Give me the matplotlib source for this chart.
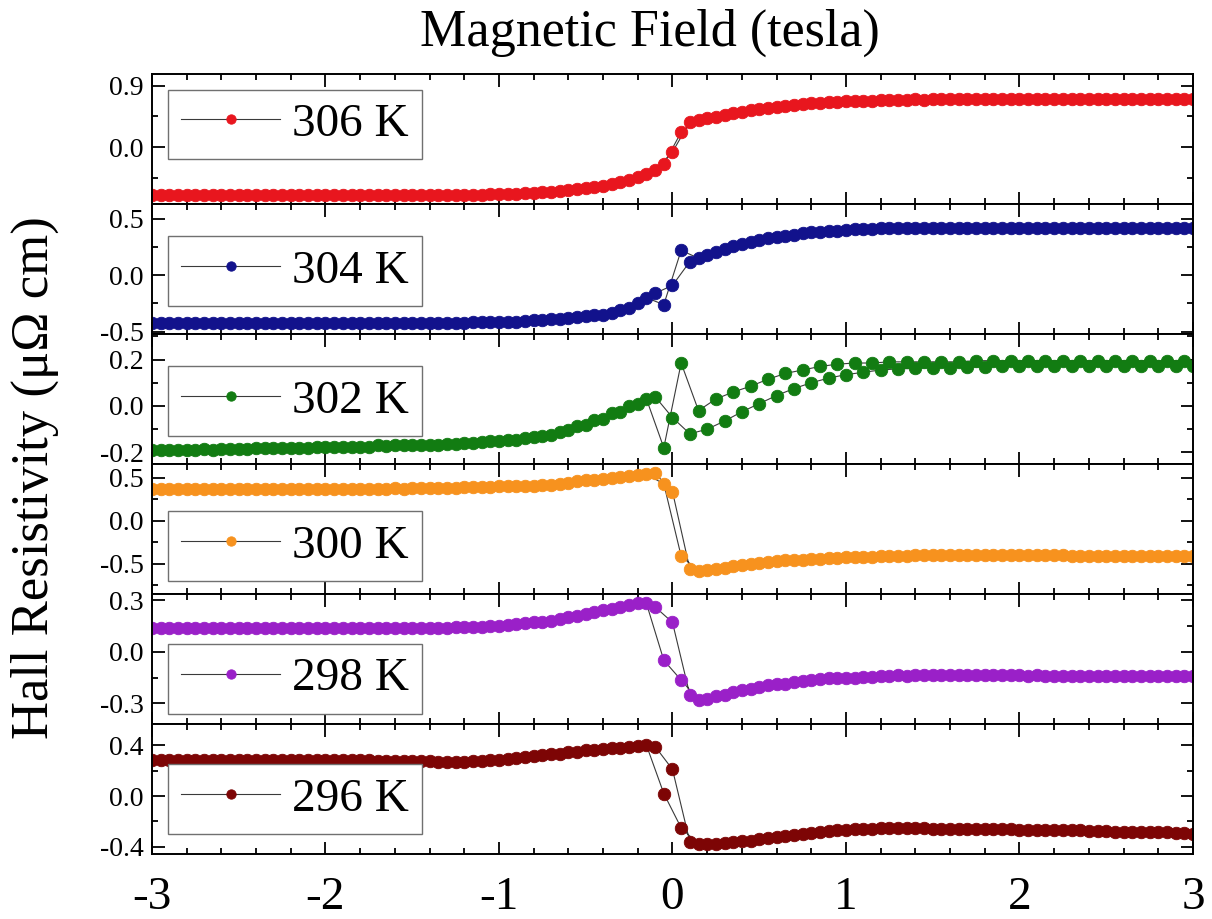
import matplotlib.pyplot as plt
from matplotlib.ticker import MultipleLocator, FuncFormatter

plt.rcParams['font.family'] = ['Liberation Serif', 'DejaVu Serif']
plt.rcParams['axes.unicode_minus'] = False

# field set points (tesla): sweep up -3 -> 3, then back down
field_up = [-3.0, -2.9, -2.8, -2.7, -2.6, -2.5, -2.4, -2.3, -2.2, -2.1,
            -2.0, -1.9, -1.8, -1.7, -1.6, -1.5, -1.4, -1.3, -1.2, -1.1,
            -1.0, -0.9, -0.8, -0.7, -0.6, -0.5, -0.4, -0.3, -0.2, -0.1,
            0.0, 0.1, 0.2, 0.3, 0.4, 0.5, 0.6, 0.7, 0.8, 0.9,
            1.0, 1.1, 1.2, 1.3, 1.4, 1.5, 1.6, 1.7, 1.8, 1.9,
            2.0, 2.1, 2.2, 2.3, 2.4, 2.5, 2.6, 2.7, 2.8, 2.9,
            3.0]
field_down = [2.95, 2.85, 2.75, 2.65, 2.55, 2.45, 2.35, 2.25, 2.15, 2.05,
              1.95, 1.85, 1.75, 1.65, 1.55, 1.45, 1.35, 1.25, 1.15, 1.05,
              0.95, 0.85, 0.75, 0.65, 0.55, 0.45, 0.35, 0.25, 0.15, 0.05,
              -0.05, -0.15, -0.25, -0.35, -0.45, -0.55, -0.65, -0.75, -0.85, -0.95,
              -1.05, -1.15, -1.25, -1.35, -1.45, -1.55, -1.65, -1.75, -1.85, -1.95,
              -2.05, -2.15, -2.25, -2.35, -2.45, -2.55, -2.65, -2.75, -2.85, -2.95]

# Hall resistivity (micro-ohm cm)
rho_306_up = [-0.70, -0.70, -0.70, -0.70, -0.70, -0.70, -0.70, -0.70, -0.70, -0.70,
              -0.70, -0.70, -0.70, -0.70, -0.70, -0.70, -0.70, -0.70, -0.70, -0.70,
              -0.69, -0.68, -0.67, -0.65, -0.63, -0.60, -0.56, -0.51, -0.44, -0.34,
              -0.07, 0.37, 0.42, 0.47, 0.52, 0.56, 0.59, 0.62, 0.64, 0.66,
              0.67, 0.68, 0.69, 0.69, 0.70, 0.70, 0.70, 0.70, 0.70, 0.70,
              0.70, 0.70, 0.70, 0.70, 0.70, 0.70, 0.70, 0.70, 0.70, 0.70,
              0.70]
rho_306_down = [0.70, 0.70, 0.70, 0.70, 0.70, 0.70, 0.70, 0.70, 0.70, 0.70,
                0.70, 0.70, 0.70, 0.70, 0.70, 0.69, 0.69, 0.685, 0.68, 0.675,
                0.665, 0.65, 0.63, 0.605, 0.575, 0.54, 0.495, 0.445, 0.40, 0.22,
                -0.25, -0.39, -0.48, -0.54, -0.585, -0.615, -0.64, -0.66, -0.675, -0.685,
                -0.69, -0.70, -0.70, -0.70, -0.70, -0.70, -0.70, -0.70, -0.70, -0.70,
                -0.70, -0.70, -0.70, -0.70, -0.70, -0.70, -0.70, -0.70, -0.70, -0.70]

rho_304_up = [-0.42, -0.42, -0.42, -0.42, -0.42, -0.42, -0.42, -0.42, -0.42, -0.42,
              -0.42, -0.42, -0.42, -0.42, -0.42, -0.42, -0.42, -0.42, -0.42, -0.415,
              -0.41, -0.41, -0.40, -0.39, -0.38, -0.365, -0.35, -0.31, -0.25, -0.16,
              -0.09, 0.12, 0.18, 0.23, 0.28, 0.31, 0.34, 0.36, 0.38, 0.39,
              0.40, 0.41, 0.415, 0.42, 0.42, 0.42, 0.42, 0.42, 0.42, 0.42,
              0.42, 0.42, 0.42, 0.42, 0.42, 0.42, 0.42, 0.42, 0.42, 0.42,
              0.42]
rho_304_down = [0.42, 0.42, 0.42, 0.42, 0.42, 0.42, 0.42, 0.42, 0.42, 0.42,
                0.42, 0.42, 0.42, 0.42, 0.42, 0.42, 0.42, 0.415, 0.41, 0.405,
                0.395, 0.385, 0.37, 0.35, 0.325, 0.295, 0.255, 0.205, 0.15, 0.22,
                -0.26, -0.20, -0.29, -0.33, -0.355, -0.37, -0.385, -0.395, -0.405, -0.41,
                -0.41, -0.415, -0.42, -0.42, -0.42, -0.42, -0.42, -0.42, -0.42, -0.42,
                -0.42, -0.42, -0.42, -0.42, -0.42, -0.42, -0.42, -0.42, -0.42, -0.42]

rho_302_up = [-0.19, -0.19, -0.19, -0.185, -0.185, -0.185, -0.18, -0.18, -0.18, -0.18,
              -0.175, -0.175, -0.175, -0.17, -0.17, -0.17, -0.17, -0.165, -0.16, -0.155,
              -0.15, -0.145, -0.135, -0.125, -0.105, -0.08, -0.055, -0.025, 0.01, 0.04,
              -0.05, -0.12, -0.10, -0.065, -0.025, 0.01, 0.045, 0.075, 0.10, 0.12,
              0.135, 0.145, 0.155, 0.16, 0.162, 0.165, 0.165, 0.167, 0.168, 0.17,
              0.17, 0.17, 0.17, 0.17, 0.17, 0.17, 0.17, 0.17, 0.17, 0.17,
              0.17]
rho_302_down = [0.195, 0.195, 0.195, 0.195, 0.195, 0.195, 0.195, 0.195, 0.195, 0.195,
                0.195, 0.195, 0.195, 0.19, 0.19, 0.19, 0.19, 0.19, 0.185, 0.185,
                0.18, 0.17, 0.155, 0.14, 0.115, 0.085, 0.06, 0.03, -0.02, 0.185,
                -0.18, 0.03, 0.0, -0.03, -0.06, -0.085, -0.11, -0.13, -0.14, -0.148,
                -0.152, -0.158, -0.163, -0.167, -0.17, -0.17, -0.172, -0.175, -0.175, -0.175,
                -0.178, -0.18, -0.18, -0.182, -0.185, -0.185, -0.188, -0.19, -0.19, -0.19]

rho_300_up = [0.37, 0.37, 0.37, 0.37, 0.37, 0.37, 0.37, 0.37, 0.37, 0.37,
              0.37, 0.37, 0.375, 0.375, 0.38, 0.38, 0.38, 0.385, 0.39, 0.395,
              0.40, 0.405, 0.41, 0.42, 0.445, 0.47, 0.49, 0.51, 0.53, 0.55,
              0.34, -0.56, -0.575, -0.55, -0.515, -0.49, -0.47, -0.455, -0.445, -0.435,
              -0.425, -0.415, -0.41, -0.405, -0.40, -0.40, -0.40, -0.40, -0.40, -0.40,
              -0.40, -0.40, -0.40, -0.405, -0.405, -0.405, -0.41, -0.41, -0.41, -0.41,
              -0.41]
rho_300_down = [-0.41, -0.41, -0.41, -0.41, -0.405, -0.405, -0.405, -0.40, -0.40, -0.40,
                -0.40, -0.40, -0.40, -0.40, -0.40, -0.40, -0.405, -0.41, -0.415, -0.42,
                -0.43, -0.44, -0.45, -0.46, -0.48, -0.50, -0.53, -0.56, -0.58, -0.41,
                0.43, 0.54, 0.52, 0.50, 0.48, 0.46, 0.43, 0.415, 0.41, 0.40,
                0.395, 0.39, 0.385, 0.38, 0.38, 0.375, 0.375, 0.37, 0.37, 0.37,
                0.37, 0.37, 0.37, 0.37, 0.37, 0.37, 0.37, 0.37, 0.37, 0.37]

rho_298_up = [0.14, 0.14, 0.14, 0.14, 0.14, 0.14, 0.14, 0.14, 0.14, 0.14,
              0.14, 0.14, 0.14, 0.14, 0.14, 0.14, 0.14, 0.14, 0.145, 0.145,
              0.15, 0.16, 0.17, 0.18, 0.20, 0.22, 0.24, 0.26, 0.28, 0.26,
              0.17, -0.25, -0.275, -0.25, -0.225, -0.205, -0.19, -0.175, -0.165, -0.155,
              -0.15, -0.145, -0.14, -0.135, -0.135, -0.135, -0.135, -0.135, -0.135, -0.135,
              -0.135, -0.135, -0.14, -0.14, -0.14, -0.14, -0.14, -0.14, -0.14, -0.14,
              -0.14]
rho_298_down = [-0.14, -0.14, -0.14, -0.14, -0.14, -0.14, -0.14, -0.14, -0.14, -0.14,
                -0.135, -0.135, -0.135, -0.135, -0.135, -0.135, -0.14, -0.14, -0.145, -0.15,
                -0.155, -0.16, -0.17, -0.185, -0.195, -0.215, -0.235, -0.26, -0.28, -0.165,
                -0.05, 0.28, 0.27, 0.25, 0.23, 0.21, 0.19, 0.175, 0.165, 0.155,
                0.15, 0.145, 0.145, 0.14, 0.14, 0.14, 0.14, 0.14, 0.14, 0.14,
                0.14, 0.14, 0.14, 0.14, 0.14, 0.14, 0.14, 0.14, 0.14, 0.14]

rho_296_up = [0.28, 0.28, 0.28, 0.28, 0.28, 0.28, 0.28, 0.28, 0.28, 0.28,
              0.28, 0.28, 0.28, 0.275, 0.275, 0.275, 0.275, 0.27, 0.27, 0.275,
              0.285, 0.30, 0.315, 0.33, 0.345, 0.36, 0.37, 0.38, 0.395, 0.39,
              0.21, -0.36, -0.38, -0.37, -0.355, -0.34, -0.325, -0.31, -0.29, -0.275,
              -0.265, -0.26, -0.255, -0.255, -0.255, -0.26, -0.26, -0.26, -0.26, -0.26,
              -0.265, -0.265, -0.27, -0.27, -0.275, -0.275, -0.28, -0.28, -0.285, -0.29,
              -0.295]
rho_296_down = [-0.29, -0.285, -0.285, -0.28, -0.28, -0.275, -0.27, -0.27, -0.265, -0.265,
                -0.26, -0.26, -0.26, -0.26, -0.26, -0.255, -0.255, -0.255, -0.26, -0.26,
                -0.27, -0.285, -0.30, -0.315, -0.33, -0.35, -0.365, -0.375, -0.38, -0.25,
                0.02, 0.40, 0.39, 0.375, 0.365, 0.35, 0.335, 0.32, 0.305, 0.29,
                0.28, 0.275, 0.27, 0.27, 0.275, 0.275, 0.275, 0.28, 0.28, 0.28,
                0.28, 0.28, 0.28, 0.28, 0.28, 0.28, 0.28, 0.28, 0.28, 0.28]

labels = ['306 K', '304 K', '302 K', '300 K', '298 K', '296 K']
colors = ['#e8161e', '#12128c', '#127c12', '#f7921e', '#9a20c8', '#7d0505']
sweeps_up = [rho_306_up, rho_304_up, rho_302_up, rho_300_up, rho_298_up, rho_296_up]
sweeps_down = [rho_306_down, rho_304_down, rho_302_down, rho_300_down, rho_298_down, rho_296_down]
ylims = [(-0.83, 1.07), (-0.52, 0.63), (-0.25, 0.31), (-0.85, 0.66), (-0.42, 0.335), (-0.456, 0.567)]
major_steps = [0.9, 0.5, 0.2, 0.5, 0.3, 0.4]
legend_tops = [0.88, 0.75, 0.75, 0.635, 0.615, 0.69]


def fmt(v, pos):
    if abs(v) < 1e-9:
        return '0.0'
    return '%.1f' % v


fig, axes = plt.subplots(6, 1, sharex=True, figsize=(12.12, 9.19), dpi=100)
fig.subplots_adjust(left=0.1254, right=0.9843, top=0.9195, bottom=0.0707, hspace=0)

for i, ax in enumerate(axes):
    c = colors[i]
    ax.plot(field_up + field_down, sweeps_up[i] + sweeps_down[i], '-o',
            color='#3a3a3a', lw=0.8, ms=9, mfc=c, mec=c, mew=0.6, label=labels[i])
    ax.set_ylim(ylims[i])
    ax.yaxis.set_major_locator(MultipleLocator(major_steps[i]))
    ax.yaxis.set_minor_locator(MultipleLocator(major_steps[i] / 2))
    ax.yaxis.set_major_formatter(FuncFormatter(fmt))
    ax.tick_params(which='both', direction='in', top=True, right=True, width=1.3)
    ax.tick_params(which='major', length=9, labelsize=20, pad=6)
    ax.tick_params(which='minor', length=4.5)
    for sp in ax.spines.values():
        sp.set_linewidth(1.4)
    leg = ax.legend(loc='upper left', bbox_to_anchor=(0.0154, legend_tops[i]),
                    borderaxespad=0, fontsize=34, fancybox=False, framealpha=1,
                    edgecolor='#707070', handlelength=2.1, handletextpad=0.25,
                    borderpad=0.28, numpoints=1, markerscale=0.75)
    leg.get_frame().set_linewidth(1.0)

axes[-1].set_xlim(-3, 3)
axes[-1].xaxis.set_major_locator(MultipleLocator(1))
axes[-1].xaxis.set_minor_locator(MultipleLocator(0.2))
axes[-1].tick_params(axis='x', which='major', labelsize=34, pad=16)

fig.text(650 / 1212, 1 - 33 / 919, 'Magnetic Field (tesla)', ha='center', va='center', fontsize=37.5)
fig.text(35 / 1212, 1 - 478 / 919, 'Hall Resistivity (μΩ cm)', rotation=90,
         ha='center', va='center', fontsize=38)

fig.savefig('out.png', dpi=100)
